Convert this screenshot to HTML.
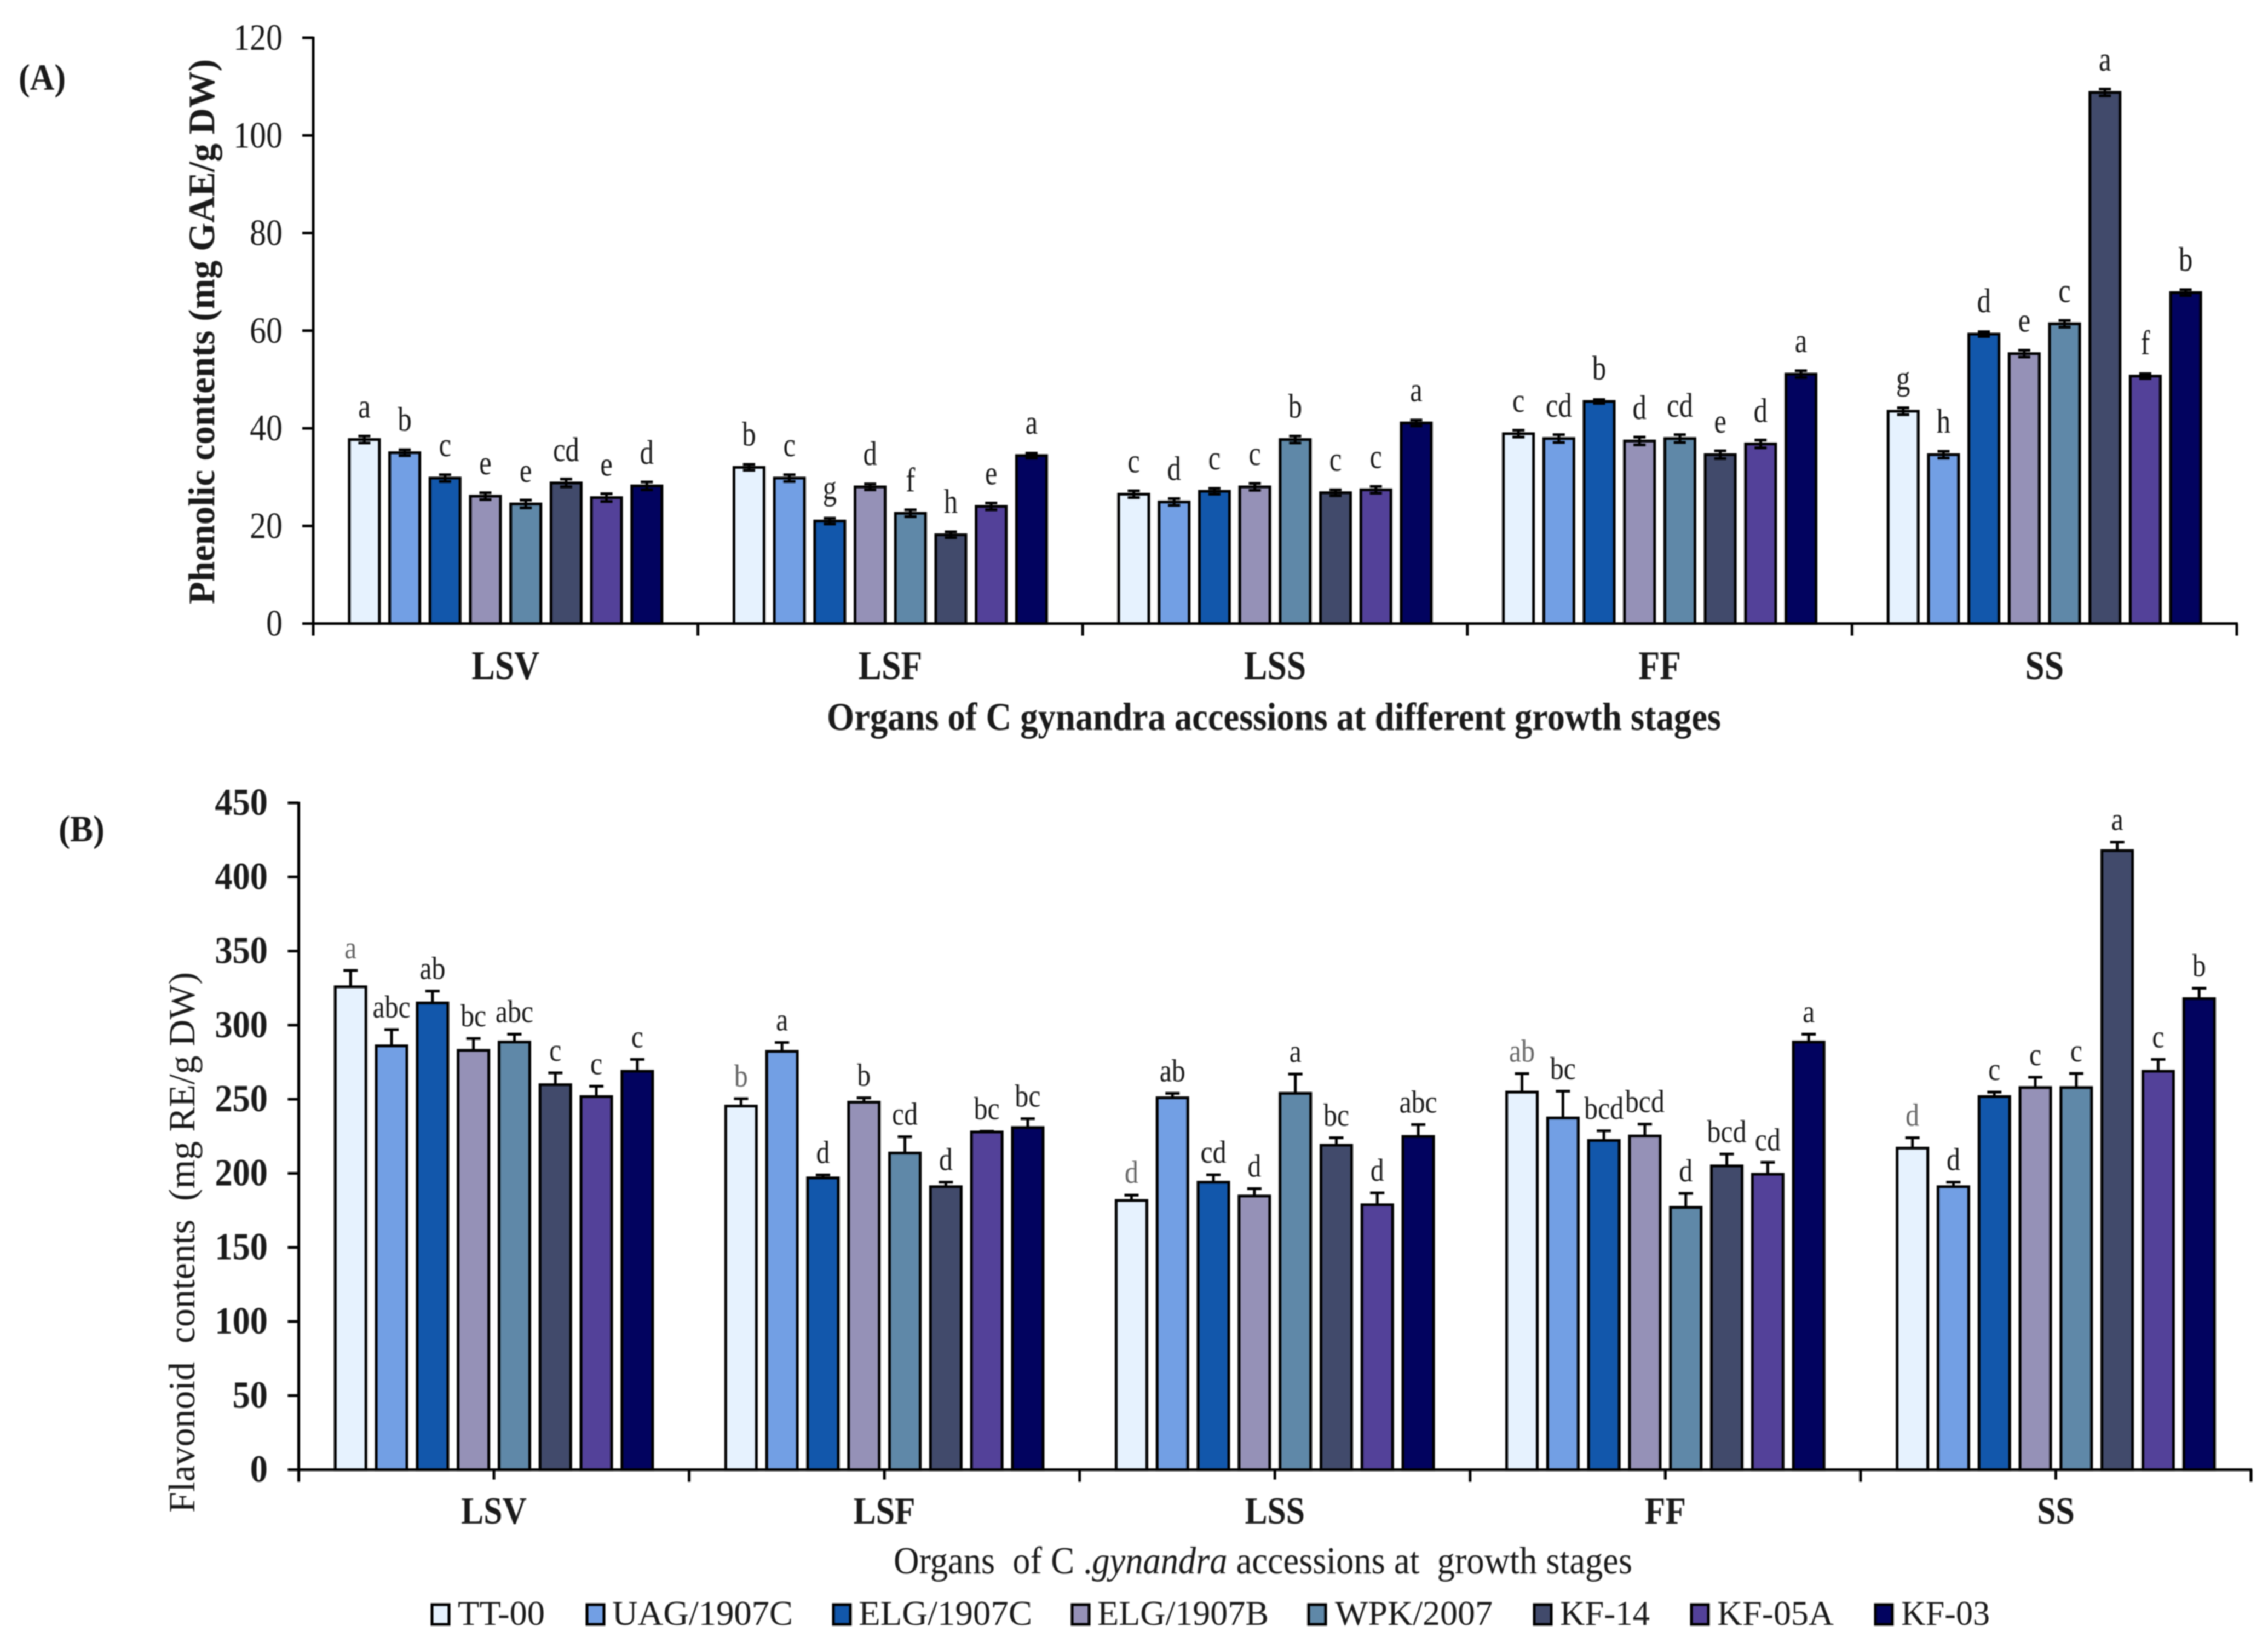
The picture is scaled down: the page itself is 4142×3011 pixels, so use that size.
<!DOCTYPE html>
<html lang="en">
<head>
<meta charset="utf-8">
<title>Phenolic and flavonoid contents of C. gynandra accessions</title>
<style>
  html, body { margin: 0; padding: 0; background: #fff; }
  svg { display: block; font-family: "Liberation Serif", "Times New Roman", serif; filter: blur(1px); }
  text { fill: #1a1a1a; }
  .s0 { fill: #e6f2fe; } .s1 { fill: #729fe4; } .s2 { fill: #1257ab; } .s3 { fill: #9591b7; }
  .s4 { fill: #5f88a8; } .s5 { fill: #414a6b; } .s6 { fill: #534199; } .s7 { fill: #02035f; }
  .bar { stroke: #000; stroke-width: 5; }
  .err { stroke: #000; stroke-width: 5; fill: none; }
  .axis { stroke: #000; stroke-width: 5; fill: none; }
  .b { font-weight: bold; }
  .soft { fill: #666; }
</style>
</head>
<body>
<svg id="figure" xmlns="http://www.w3.org/2000/svg" width="4142" height="3011" viewBox="0 0 4142 3011">
  <rect width="4142" height="3011" fill="#fff"/>

  <text class="b" x="34" y="164" font-size="68" textLength="86" lengthAdjust="spacingAndGlyphs">(A)</text>
  <text class="b" transform="translate(391,1103) rotate(-90)" font-size="68" textLength="995" lengthAdjust="spacingAndGlyphs">Phenolic contents (mg GAE/g DW)</text>
  <text class="b" x="1510" y="1333" font-size="72" textLength="1633" lengthAdjust="spacingAndGlyphs">Organs of C  gynandra accessions at different growth stages</text>

  <text class="b" x="107" y="1536" font-size="68" textLength="84" lengthAdjust="spacingAndGlyphs">(B)</text>
  <text transform="translate(355,2762) rotate(-90)" font-size="68" textLength="987" lengthAdjust="spacingAndGlyphs" xml:space="preserve">Flavonoid  contents  (mg RE/g DW)</text>
  <text x="1632" y="2873" font-size="70" textLength="1349" lengthAdjust="spacingAndGlyphs" xml:space="preserve">Organs  of C .<tspan font-style="italic">gynandra</tspan> accessions at  growth stages</text>

  <g id="chart-a"></g>
  <g id="chart-b"></g>

  <g>
    <g><rect class="bar s0" x="789" y="2930" width="31" height="36"/><text x="836" y="2967" font-size="64" textLength="159" lengthAdjust="spacingAndGlyphs">TT-00</text></g>
    <g><rect class="bar s1" x="1072" y="2930" width="31" height="36"/><text x="1118" y="2967" font-size="64" textLength="330" lengthAdjust="spacingAndGlyphs">UAG/1907C</text></g>
    <g><rect class="bar s2" x="1522" y="2930" width="31" height="36"/><text x="1568" y="2967" font-size="64" textLength="317" lengthAdjust="spacingAndGlyphs">ELG/1907C</text></g>
    <g><rect class="bar s3" x="1958" y="2930" width="31" height="36"/><text x="2004" y="2967" font-size="64" textLength="313" lengthAdjust="spacingAndGlyphs">ELG/1907B</text></g>
    <g><rect class="bar s4" x="2390" y="2930" width="31" height="36"/><text x="2438" y="2967" font-size="64" textLength="288" lengthAdjust="spacingAndGlyphs">WPK/2007</text></g>
    <g><rect class="bar s5" x="2802" y="2930" width="31" height="36"/><text x="2849" y="2967" font-size="64" textLength="164" lengthAdjust="spacingAndGlyphs">KF-14</text></g>
    <g><rect class="bar s6" x="3089" y="2930" width="31" height="36"/><text x="3136" y="2967" font-size="64" textLength="213" lengthAdjust="spacingAndGlyphs">KF-05A</text></g>
    <g><rect class="bar s7" x="3425" y="2930" width="31" height="36"/><text x="3472" y="2967" font-size="64" textLength="162" lengthAdjust="spacingAndGlyphs">KF-03</text></g>
  </g>
</svg>

<script>
// Shared categories and accessions
const categories = ['LSV', 'LSF', 'LSS', 'FF', 'SS'];
const accessions = ['TT-00', 'UAG/1907C', 'ELG/1907C', 'ELG/1907B', 'WPK/2007', 'KF-14', 'KF-05A', 'KF-03'];

// Panel A: phenolic contents, one array per organ
const phenolicTicks = [0, 20, 40, 60, 80, 100, 120];
const phenolicLSV = [37.7, 35.0, 29.8, 26.1, 24.5, 28.8, 25.8, 28.2];
const phenolicLSF = [32.0, 29.8, 21.0, 28.0, 22.6, 18.2, 24.0, 34.4];
const phenolicLSS = [26.5, 24.9, 27.1, 28.0, 37.7, 26.8, 27.4, 41.1];
const phenolicFF = [38.9, 37.9, 45.5, 37.4, 37.9, 34.6, 36.8, 51.1];
const phenolicSS = [43.5, 34.6, 59.3, 55.3, 61.4, 108.8, 50.7, 67.8];
const phenolicErrLSV = [0.7, 0.6, 0.7, 0.7, 0.8, 0.8, 0.8, 0.8];
const phenolicErrLSF = [0.6, 0.7, 0.6, 0.6, 0.7, 0.6, 0.7, 0.5];
const phenolicErrLSS = [0.7, 0.7, 0.6, 0.7, 0.7, 0.6, 0.7, 0.6];
const phenolicErrFF = [0.7, 0.8, 0.4, 0.8, 0.8, 0.8, 0.8, 0.7];
const phenolicErrSS = [0.7, 0.7, 0.5, 0.7, 0.7, 0.7, 0.5, 0.6];
const phenolicLetLSV = ['a', 'b', 'c', 'e', 'e', 'cd', 'e', 'd'];
const phenolicLetLSF = ['b', 'c', 'g', 'd', 'f', 'h', 'e', 'a'];
const phenolicLetLSS = ['c', 'd', 'c', 'c', 'b', 'c', 'c', 'a'];
const phenolicLetFF = ['c', 'cd', 'b', 'd', 'cd', 'e', 'd', 'a'];
const phenolicLetSS = ['g', 'h', 'd', 'e', 'c', 'a', 'f', 'b'];

// Panel B: flavonoid contents, one array per organ
const flavonoidTicks = [0, 50, 100, 150, 200, 250, 300, 350, 400, 450];
const flavonoidLSV = [325.9, 286, 315, 283, 288.6, 259.8, 251.8, 268.9];
const flavonoidLSF = [245.4, 282.3, 196.9, 248, 213.7, 191, 227.9, 230.9];
const flavonoidLSS = [181.7, 251, 194, 184.7, 254, 219, 178.8, 224.9];
const flavonoidFF = [254.8, 237.4, 222.2, 225.2, 177, 205, 199.4, 288.6];
const flavonoidSS = [217, 191, 251.8, 257.9, 257.9, 417.8, 268.9, 317.9];
const flavonoidErrLSV = [11, 11, 8, 8, 5.3, 8, 7, 8];
const flavonoidErrLSF = [5, 6, 2, 3, 11, 3, 0.5, 6];
const flavonoidErrLSS = [3.6, 3, 5, 5, 13, 5, 8, 8];
const flavonoidErrFF = [12.5, 18, 6.5, 8, 9.5, 8, 8, 5.3];
const flavonoidErrSS = [7, 3, 3, 7, 9.5, 5.7, 8, 7];
const flavonoidLetLSV = ['a', 'abc', 'ab', 'bc', 'abc', 'c', 'c', 'c'];
const flavonoidLetLSF = ['b', 'a', 'd', 'b', 'cd', 'd', 'bc', 'bc'];
const flavonoidLetLSS = ['d', 'ab', 'cd', 'd', 'a', 'bc', 'd', 'abc'];
const flavonoidLetFF = ['ab', 'bc', 'bcd', 'bcd', 'd', 'bcd', 'cd', 'a'];
const flavonoidLetSS = ['d', 'd', 'c', 'c', 'c', 'a', 'c', 'b'];

const phenolicValues = [phenolicLSV, phenolicLSF, phenolicLSS, phenolicFF, phenolicSS];
const phenolicErrors = [phenolicErrLSV, phenolicErrLSF, phenolicErrLSS, phenolicErrFF, phenolicErrSS];
const phenolicLetters = [phenolicLetLSV, phenolicLetLSF, phenolicLetLSS, phenolicLetFF, phenolicLetSS];
const flavonoidValues = [flavonoidLSV, flavonoidLSF, flavonoidLSS, flavonoidFF, flavonoidSS];
const flavonoidErrors = [flavonoidErrLSV, flavonoidErrLSF, flavonoidErrLSS, flavonoidErrFF, flavonoidErrSS];
const flavonoidLetters = [flavonoidLetLSV, flavonoidLetLSF, flavonoidLetLSS, flavonoidLetFF, flavonoidLetSS];

const NS = 'http://www.w3.org/2000/svg';

function node(parent, tag) {
  const el = document.createElementNS(NS, tag);
  parent.appendChild(el);
  return el;
}

function line(parent, cls, x1, y1, x2, y2) {
  const el = node(parent, 'line');
  el.setAttribute('class', cls);
  el.setAttribute('x1', x1);
  el.setAttribute('y1', y1);
  el.setAttribute('x2', x2);
  el.setAttribute('y2', y2);
  return el;
}

function label(parent, str, x, y, size, sx, anchor, cls) {
  const el = node(parent, 'text');
  el.textContent = str;
  el.setAttribute('transform', 'translate(' + x + ',' + y + ') scale(' + sx + ',1)');
  el.setAttribute('font-size', size);
  el.setAttribute('text-anchor', anchor);
  if (cls) el.setAttribute('class', cls);
  return el;
}

function drawChart(root, g) {
  const yScale = v => g.y0 - v * (g.y0 - g.yTop) / g.yMax;
  const bandCenter = c => g.x0 + (c + 0.5) * g.band;
  const barCenter = (c, s) => bandCenter(c) + (s - 3.5) * g.pitch;

  // Axes
  const yAxis = line(root, 'axis', g.x0, g.yTop - 2, g.x0, g.y0 + 2);
  
  
  const xAxis = line(root, 'axis', g.x0 - 2, g.y0, g.x0 + g.band * categories.length + 2, g.y0);
  
  

  // Y ticks and labels
  g.ticks.forEach(t => {
    const y = yScale(t);
    const mark = line(root, 'axis', g.x0 - 20, y, g.x0, y);
    
    
    const tl = label(root, String(t), g.tickRight, y + 22, g.tickSize, g.tickSx, 'end', g.tickClass);
    
    
  });

  // X ticks
  for (let i = 0; i <= categories.length; i++) {
    const x = g.x0 + i * g.band;
    const mark = line(root, 'axis', x, g.y0, x, g.y0 + 22);
    
    
    if (g.centerTicks && i < categories.length) {
      const mid = line(root, 'axis', bandCenter(i), g.y0, bandCenter(i), g.y0 + 18);
      
      
    }
  }

  // Bars, error bars, letters
  categories.forEach((cat, c) => {
    const cl = label(root, cat, bandCenter(c), g.catY, g.catSize, g.catSx, 'middle', 'b');
    
    

    accessions.forEach((name, s) => {
      const v = g.values[c][s];
      const e = g.errors[c][s];
      const cx = barCenter(c, s);
      const top = yScale(v);

      const bar = node(root, 'rect');
      
      
      bar.setAttribute('class', 'bar s' + s);
      bar.setAttribute('x', cx - g.barW / 2);
      bar.setAttribute('y', top);
      bar.setAttribute('width', g.barW);
      bar.setAttribute('height', g.y0 - top);

      const upper = yScale(v + e);
      const lower = g.twoSided ? yScale(v - e) : top;
      const stem = line(root, 'err', cx, upper, cx, lower);
      
      
      const capTop = line(root, 'err', cx - g.cap / 2, upper, cx + g.cap / 2, upper);
      
      
      if (g.twoSided) {
        const capLow = line(root, 'err', cx - g.cap / 2, lower, cx + g.cap / 2, lower);
        
        
      }

      const ly = (g.twoSided ? top : upper) - g.letterGap;
      const softCls = (!g.twoSided && s === 0) ? 'soft' : '';
      const lt = label(root, g.letters[c][s], cx, ly, g.letterSize, g.letterSx, 'middle', softCls);
      
      
    });
  });
}

drawChart(document.getElementById('chart-a'), {
  x0: 572, band: 702.6, y0: 1138.6, yTop: 69, yMax: 120,
  pitch: 73.7, barW: 55, cap: 22, twoSided: true,
  ticks: phenolicTicks, tickRight: 516, tickSize: 68, tickSx: 0.88, tickClass: '',
  catY: 1240, catSize: 74, catSx: 0.86, centerTicks: false,
  letterGap: 40, letterSize: 62, letterSx: 0.82,
  values: phenolicValues, errors: phenolicErrors, letters: phenolicLetters
});

drawChart(document.getElementById('chart-b'), {
  x0: 545.5, band: 713.1, y0: 2683.6, yTop: 1466, yMax: 450,
  pitch: 74.8, barW: 56, cap: 26, twoSided: false,
  ticks: flavonoidTicks, tickRight: 489, tickSize: 70, tickSx: 0.92, tickClass: 'b',
  catY: 2782, catSize: 70, catSx: 0.88, centerTicks: true,
  letterGap: 22, letterSize: 58, letterSx: 0.86,
  values: flavonoidValues, errors: flavonoidErrors, letters: flavonoidLetters
});
</script>
</body>
</html>
